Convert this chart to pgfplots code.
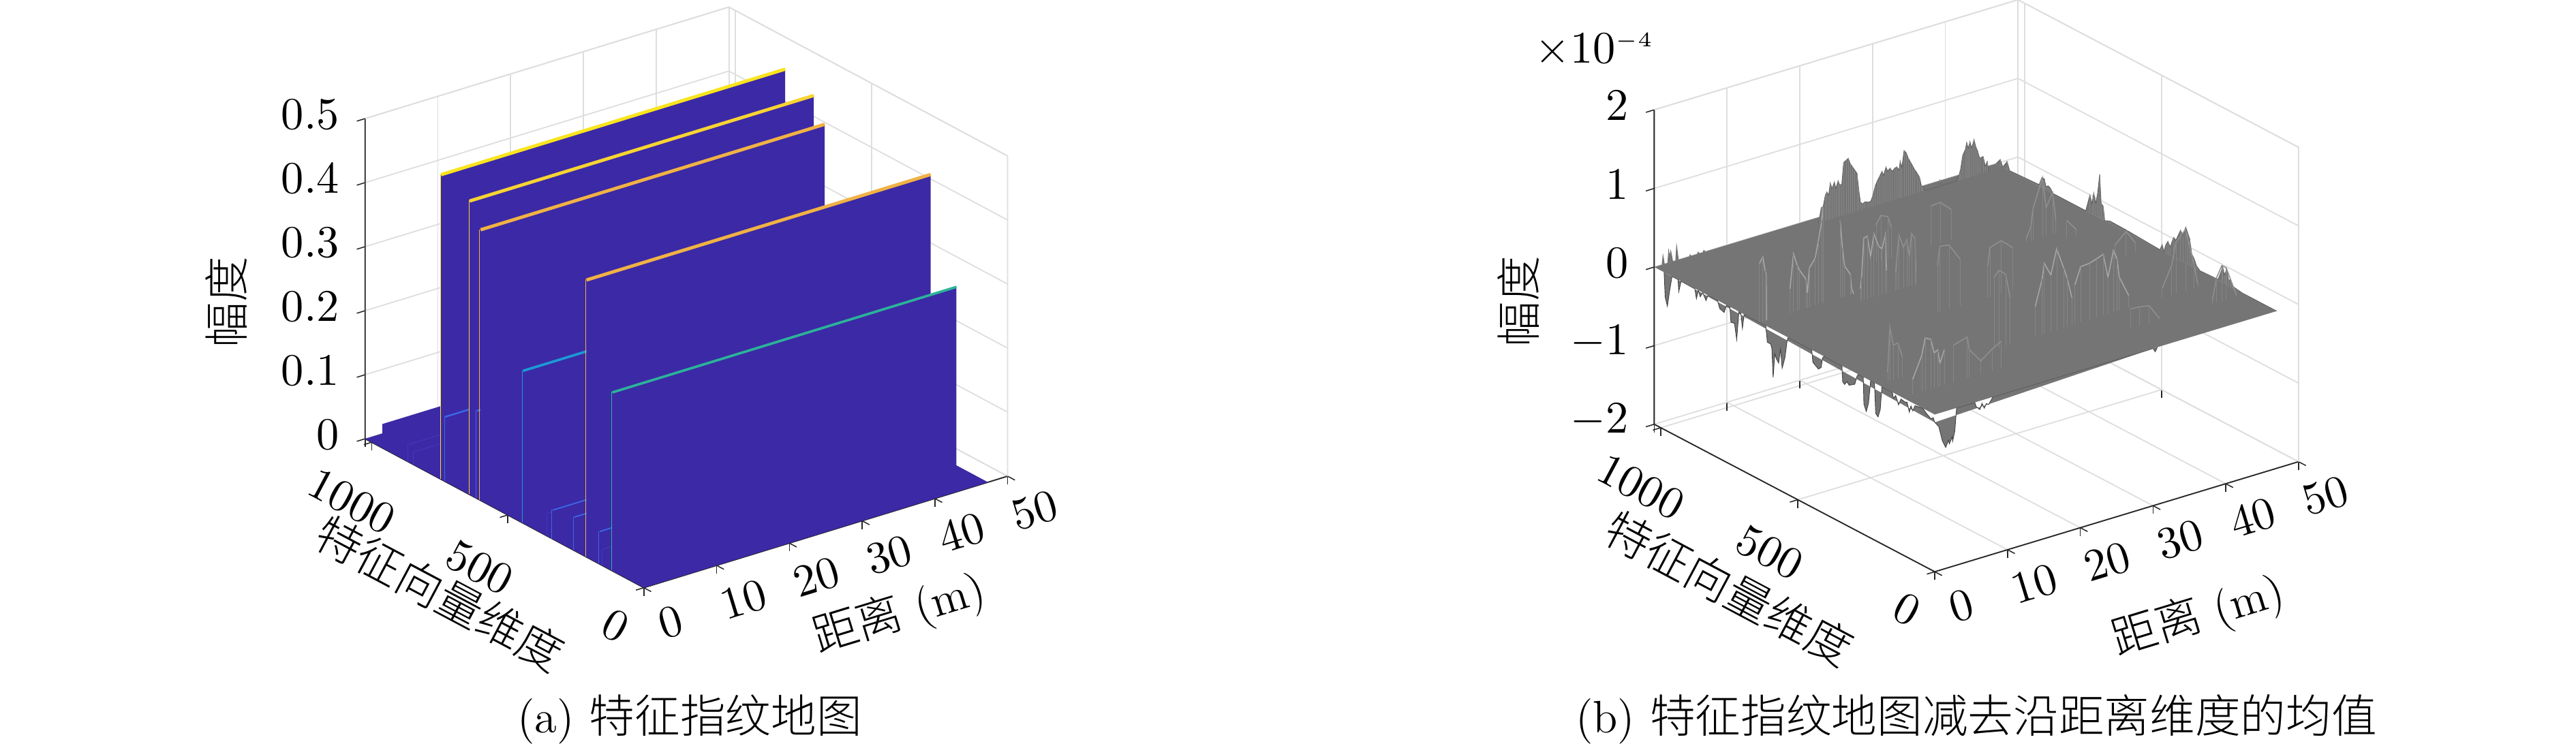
\documentclass[border=0pt]{standalone}
\usepackage{fontspec}
\usepackage{pgfplots}
\pgfplotsset{compat=1.18}
\newfontfamily\cjk{Noto Sans CJK SC Light}
\definecolor{wall}{HTML}{3C29A5}
\definecolor{gridc}{HTML}{DEDEDE}
\definecolor{axc}{HTML}{262626}
\definecolor{plate}{HTML}{757575}
\definecolor{bright}{HTML}{A6A6A6}
\definecolor{faint}{HTML}{8F8F8F}
\definecolor{combc}{HTML}{858585}
\definecolor{cyel}{HTML}{F9E41E}
\definecolor{cyel2}{HTML}{F7D432}
\definecolor{corg}{HTML}{F0B244}
\definecolor{ctea}{HTML}{2BB39A}
\definecolor{ccya}{HTML}{1C9AD6}
\definecolor{cblu}{HTML}{3B68E8}
\definecolor{cblu2}{HTML}{4535BC}
\newcommand\lab[3]{\makebox[0pt]{\hspace*{#1}\raisebox{#2}[7.5pt][0pt]{$#3$}}}
% one ridge of the fingerprint map: wall, thin flank and top line
\newcommand\ridge[4]{% y, height, top colour, top width
  \addplot3[draw=#3,line width=.15pt] coordinates {(0,#1+3,0)(0,#1+3,#2)};
  \addplot3[fill=wall,draw=none] coordinates {(0,#1,0)(47.3,#1,0)(47.3,#1,#2)(0,#1,#2)};
  \addplot3[draw=#3,line width=#4] coordinates {(0,#1,#2)(47.3,#1,#2)};
}
% a curve of the residual surface at constant y
\newcommand\fin[3]{\addplot3[draw=#1,line width=.26pt] table[row sep=\\,x index=0,y expr=#2,z index=1]{#3};
  \addplot3[draw=none,mark=none,error bars/.cd,z dir=minus,z fixed relative=1,error mark=none,error bar style={draw=combc,line width=.12pt}] table[row sep=\\,x index=0,y expr=#2,z index=1]{#3};}
\pgfplotsset{mychart/.style={
  clip=false, grid=major, grid style={line width=.3pt,draw=gridc},
  axis line style={draw=none}, tick style={draw=axc,line width=.25pt},
  tick align=outside, major tick length=2pt, tickpos=left, ztick style={draw=none},
  tick label style={font=\fontsize{11}{13}\selectfont},
  label style={font=\fontsize{11}{13}\selectfont},
  xmin=0,xmax=50,ymin=0,ymax=1024,
  xtick={0,10,20,30,40,50}, ytick={0,500,1000},
  xticklabel style={rotate=17,anchor=center,xshift=2.4pt,yshift=-8.4pt},
  yticklabel style={rotate=-28,anchor=center,xshift=1.4pt,yshift=-12.8pt},
  zticklabel style={anchor=east,xshift=-1pt},
  yticklabels={\lab{-3.4pt}{3.2pt}{0},\lab{0pt}{0pt}{500},\lab{5pt}{-.5pt}{1000}},
  xlabel style={rotate=17,anchor=center},
  ylabel style={rotate=-28,anchor=center},
  zlabel style={anchor=center},
}}
\begin{document}
\begin{tikzpicture}[x=1pt,y=1pt]
\useasboundingbox (0,0) rectangle (623.7,181.17);
\begin{axis}[mychart,
  at={(155.89pt,38.82pt)},anchor=origin,
  x={(1.7615pt,.5402pt)},y={(-.0659pt,.03524pt)},z={(0pt,155.1pt)},
  zmin=0,zmax=0.5,ztick={0,0.1,0.2,0.3,0.4,0.5},
  xlabel={\cjk 距离\rmfamily{} (m)},ylabel={\cjk 特征向量维度},zlabel={\cjk 幅度},
  every axis x label/.append style={at={(axis cs:17.95,-459,0)}},
  every axis y label/.append style={at={(axis cs:-18.7,248,0)}},
  every axis z label/.append style={at={(axis cs:-19.1,1024,0.28)}},
]
\draw[axc,line width=.3pt] (axis cs:0,1024,0.5)--(axis cs:0,1024,0)--(axis cs:0,0,0)--(axis cs:50,0,0);
\draw[gridc,line width=.3pt] (axis cs:50,0,0)--(axis cs:50,0,0.5)--(axis cs:50,1024,0.5)--(axis cs:0,1024,0.5);
\draw[gridc,line width=.3pt] (axis cs:50,1024,0)--(axis cs:50,1024,0.5);
\draw[axc,line width=.25pt] (axis cs:0,1024,0)--(axis cs:-1.15,1024,0) (axis cs:0,1024,0.1)--(axis cs:-1.15,1024,0.1) (axis cs:0,1024,0.2)--(axis cs:-1.15,1024,0.2) (axis cs:0,1024,0.3)--(axis cs:-1.15,1024,0.3) (axis cs:0,1024,0.4)--(axis cs:-1.15,1024,0.4) (axis cs:0,1024,0.5)--(axis cs:-1.15,1024,0.5);
\addplot3[fill=wall,draw=none] coordinates {(0,0,0)(47.3,0,0)(47.3,1024,0)(0,1024,0)};
\ridge{958}{0.038}{wall}{.1pt}
\ridge{863}{0.028}{cblu2}{.2pt}
\ridge{843}{0.021}{cblu2}{.2pt}
\ridge{745}{0.4758}{cyel}{.8pt}
\ridge{730}{0.101}{cblu}{.4pt}
\ridge{640}{0.4585}{cyel2}{.8pt}
\ridge{613}{0.137}{cblu}{.4pt}
\ridge{600}{0.4226}{corg}{.8pt}
\ridge{444}{0.2378}{ccya}{.6pt}
\ridge{354}{0.036}{cblu2}{.2pt}
\ridge{335}{0.045}{cblu}{.3pt}
\ridge{256}{0.052}{cblu}{.3pt}
\ridge{210.6}{0.4327}{corg}{.8pt}
\ridge{162}{0.051}{cblu}{.3pt}
\ridge{150}{0.026}{cblu2}{.2pt}
\ridge{116}{0.2786}{ctea}{.6pt}
\end{axis}
\node[font=\fontsize{11}{13}\selectfont] at (167.0,6.9) {(a) {\cjk 特征指纹地图}};

\begin{axis}[mychart,
  at={(468.44pt,80.77pt)},anchor=origin,
  x={(1.7615pt,.533pt)},y={(-.06633pt,.03488pt)},z={(0pt,19.04pt)},
  zmin=-2,zmax=2,ztick={-2,-1,0,1,2},
  xlabel={\cjk 距离\rmfamily{} (m)},ylabel={\cjk 特征向量维度},zlabel={\cjk 幅度},
  every axis x label/.append style={at={(axis cs:15.5,-551,-2)}},
  every axis y label/.append style={at={(axis cs:-20.7,200,-2)}},
  every axis z label/.append style={at={(axis cs:-18.7,1024,0.087)}},
]
\draw[axc,line width=.3pt] (axis cs:0,1024,2)--(axis cs:0,1024,-2)--(axis cs:0,0,-2)--(axis cs:50,0,-2);
\draw[gridc,line width=.3pt] (axis cs:50,0,-2)--(axis cs:50,0,2)--(axis cs:50,1024,2)--(axis cs:0,1024,2);
\draw[gridc,line width=.3pt] (axis cs:50,1024,-2)--(axis cs:50,1024,2);
\draw[axc,line width=.25pt] (axis cs:0,1024,-2)--(axis cs:-1.15,1024,-2) (axis cs:0,1024,-1)--(axis cs:-1.15,1024,-1) (axis cs:0,1024,0)--(axis cs:-1.15,1024,0) (axis cs:0,1024,1)--(axis cs:-1.15,1024,1) (axis cs:0,1024,2)--(axis cs:-1.15,1024,2);
\node[font=\fontsize{11}{13}\selectfont] at (axis cs:-8.2,1024,2.99) {$\times 10^{\scriptscriptstyle -4}$};
% downward spikes along the edge x=0
\addplot3[fill=plate,draw=black!75,line width=.15pt] coordinates {
(0,988,0)(0,984,-.31)(0,976,-.41)(0,968,-.2)(0,959,0)(0,937,0)(0,934.5,-.15)(0,926,0)(0,876,0)(0,870,-.12)(0,863,0)(0,856,-.07)(0,847,0)(0,835,-.08)(0,828,0)(0,793,0)(0,785,-.09)(0,769,-.11)(0,760,0)(0,748,0)(0,744,-.19)(0,731,-.18)(0,723,-.37)(0,715,0)(0,708,0)(0,702,-.19)(0,696,0)(0,617,0)(0,611,-.2)(0,599,-.2)(0,594.5,-.25)(0,590,-.61)(0,584,-.3)(0,578,-.35)(0,570,-.39)(0,563,-.2)(0,557,-.43)(0,547,-.28)(0,539,-.05)(0,535,0)(0,449,0)(0,445,-.15)(0,424.5,-.2)(0,414.6,-.16)(0,409.6,-.03)(0,404,0)(0,339,0)(0,336,-.2)(0,329,-.22)(0,321,-.17)(0,312.6,-.2)(0,292,-.15)(0,283.6,-.03)(0,279,0)(0,261,0)(0,258.7,-.34)(0,250,-.42)(0,242,-.3)(0,234,0)(0,220,0)(0,215.6,-.38)(0,207,-.41)(0,199,-.3)(0,193,0)(0,155,0)(0,151,-.07)(0,142.6,-.02)(0,132,-.12)(0,123.5,-.03)(0,109,-.04)(0,101,-.03)(0,92.8,-.14)(0,87,-.05)(0,80,-.1)(0,72,-.02)(0,43,0)(0,35,-.03)(0,14,-.08)(0,5.8,-.05)(0,0,-.1)};
% downward spikes along the edge y=0
\addplot3[fill=plate,draw=black!75,line width=.15pt] coordinates {
(0,0,-.1)(.56,0,-.17)(1.03,0,-.36)(1.5,0,-.46)(1.9,0,-.38)(2,0,-.43)(2.4,0,-.35)(2.45,0,-.41)(2.75,0,-.29)(3,0,0)(5.5,0,0)(5.7,0,-.06)(6.2,0,-.11)(6.5,0,-.04)(6.8,0,-.11)(7.1,0,-.06)(7.4,0,-.08)(8,0,0)(30,0,0)(30.3,0,-.05)(30.6,0,0)};
% the flat sheet
\addplot3[fill=plate,draw=none] coordinates {(0,0,0)(47,0,0)(47,1024,0)(0,1024,0)};
% spikes near the far left corner
\addplot3[fill=plate,draw=none] coordinates {(1.03,1024,0)(1.19,1024,.146)(1.44,1024,0)(1.81,1024,0)(1.97,1024,.19)(2.12,1024,.1)(2.28,1024,.16)(2.59,1024,0)(2.9,1024,0)(3.06,1024,.23)(3.37,1024,0)(4.78,1024,0)(4.93,1024,.026)(5.1,1024,0)(5.87,1024,0)(6.03,1024,.03)(6.24,1024,0)(6.65,1024,0)(6.8,1024,.03)(7.06,1024,0)(30,1024,0)};
% the big bumps at the far edge
\addplot3[fill=plate,draw=plate!85!black,line width=.15pt,error bars/.cd,z dir=minus,z fixed relative=1,error mark=none,error bar style={draw=combc,line width=.12pt}] coordinates {
(21.67,1000,0)(21.82,1000,.06)(22.04,1000,.18)(22.32,1000,.19)(22.6,1000,.32)(22.82,1000,.36)(23.07,1000,.31)(23.29,1000,.46)(23.54,1000,.38)(23.85,1000,.46)(24.07,1000,.37)(24.38,1000,.46)(24.57,1000,.4)(24.88,1000,.4)(25.13,1000,.67)(25.51,1000,.69)(25.76,1000,.705)(26.04,1000,.63)(26.35,1000,.58)(26.66,1000,.53)(26.97,1000,.48)(27.19,1000,.28)(27.44,1000,.1)(27.76,1000,.07)(28.07,1000,.09)(28.54,1000,.07)(28.85,1000,.07)(29.16,1000,.14)(29.47,1000,.25)(29.78,1000,.31)(30.1,1000,.36)(30.41,1000,.41)(30.63,1000,.35)(30.94,1000,.45)(31.19,1000,.39)(31.5,1000,.42)(31.81,1000,.37)(32.13,1000,.4)(32.44,1000,.41)(32.75,1000,.36)(32.91,1000,.47)(33.13,1000,.38)(33.44,1000,.59)(33.75,1000,.55)(34,1000,.48)(34.31,1000,.42)(34.62,1000,.36)(34.87,1000,.31)(35.25,1000,.25)(35.56,1000,.19)(35.81,1000,.08)(36.03,1000,.05)(36.34,1000,0)(38.2,1000,0)(38.37,1000,.07)(38.5,1000,0)(40.56,1000,0)(41.02,1000,.07)(41.24,1000,.15)(41.49,1000,.3)(41.87,1000,.37)(42.05,1000,.45)(42.27,1000,.37)(42.49,1000,.45)(42.74,1000,.36)(43.05,1000,.46)(43.27,1000,.37)(43.58,1000,.29)(43.83,1000,.2)(44.3,1000,.21)(44.61,1000,.075)(44.86,1000,.13)(45.08,1000,0)};
% bumps at the far right edge
\addplot3[fill=plate,draw=plate!85!black,line width=.15pt,error bars/.cd,z dir=minus,z fixed relative=1,error mark=none,error bar style={draw=combc,line width=.12pt}] coordinates {
(47,1024,0)(47,1009,.08)(47,1000,0)(47,984,.1)(47,975,0)(47,867,.02)(47,857,.13)(47,848,.127)(47,842,.04)(47,834,.066)(47,826,.05)(47,817.5,0)(47,697,0)(47,682,.225)(47,674,.13)(47,668,.28)(47,660,.16)(47,653,.32)(47,646,.555)(47,641,.2)(47,633,.17)(47,628,0)(47,609,.03)(47,547,.025)(47,426,0)(47,418,.08)(47,412,0)(47,405,.1)(47,397,.16)(47,389,.1)(47,376,.25)(47,368,.225)(47,351,.385)(47,343,.33)(47,332,.46)(47,324,.39)(47,318,.34)(47,310,.157)(47,301,.11)(47,293,.04)(47,280,0)(47,214,.01)(47,197,.2)(47,191,.11)(47,182,.2)(47,176,.08)(47,168,.08)(47,160,.02)(47,143,.01)(47,126,0)(47,0,0)};
% lighter curves on the sheet
\fin{faint}{748}{20.1 .48\\20.76 .58\\21.7 .54\\22.2 .39\\}
\fin{faint}{748}{27.6 .51\\28.9 .52\\30.4 .39\\}
\fin{bright}{640}{0 .75\\.47 .82\\.78 .64\\.94 .58\\1 0\\}
\fin{bright}{640}{4.2 .31\\4.68 .74\\5.2 .58\\5.5 .51\\6.4 .37\\6.6 .19\\6.87 .5\\7.65 .6\\8.1 .81\\8.6 1.06\\8.75 1.23\\}
\fin{bright}{640}{11.1 .99\\11.4 .63\\11.7 .39\\12.5 .26\\12.65 .08\\12.95 0\\}
\fin{faint}{640}{36.7 .04\\37.3 .17\\37.6 .39\\38.9 .75\\39.4 .355\\40.3 .52\\40.75 .16\\}
\fin{bright}{599}{12.33 .16\\12.5 .3\\12.8 .786\\13.27 .8\\13.74 .53\\14.2 .8\\14.83 .63\\15.3 .58\\15.77 .75\\15.92 .29\\}
\fin{faint}{599}{17.17 .23\\17.33 .4\\17.64 .69\\18.26 .52\\18.73 .6\\19.05 .38\\19.36 .66\\19.83 .59\\19.98 .15\\}
\fin{faint}{599}{40.7 .235\\42 .08\\}
\fin{faint}{444}{17.1 .6\\17.4 .84\\18.67 .82\\20.2 .6\\}
\fin{faint}{444}{24 .41\\24.3 .63\\25.85 .675\\27.4 .545\\}
\fin{faint}{444}{41.5 .18\\43 .31\\44.3 .13\\}
\fin{faint}{211}{1.47 .11\\1.78 .68\\2.25 .43\\2.87 .445\\3.5 .25\\}
\fin{faint}{211}{16.14 .91\\16.77 .98\\17.7 .9\\18.3 .59\\}
\fin{bright}{211}{21.76 .38\\22.7 .7\\23 .89\\23.9 .72\\24.7 1.03\\25.66 .76\\26.1 .63\\26.8 .35\\}
\fin{bright}{211}{27.2 .5\\28 .71\\29.25 .72\\30.2 .75\\31.1 .78\\31.75 .47\\32.5 .79\\33 .67\\33.3 .43\\34.6 .16\\}
\fin{faint}{211}{39.2 .12\\40.5 .375\\41.1 .65\\42.4 .78\\43.6 .29\\44.1 .04\\}
\fin{bright}{118}{1.4 .19\\2.65 .46\\3.12 .67\\3.9 .63\\4.37 .445\\4.84 .47\\5.15 .29\\5.78 .45\\}
\fin{faint}{118}{7.02 .47\\8.9 .52\\9.2 .35\\10.76 .165\\12.3 .27\\13.6 .34\\}
\fin{faint}{118}{31.4 .25\\32.6 .24\\33.9 .22\\35.3 .02\\}
\fin{faint}{118}{42.6 .05\\43.2 .32\\43.9 .45\\44.5 .405\\45.9 .02\\}
\end{axis}
\node[font=\fontsize{11}{13}\selectfont] at (478.5,6.9) {(b) {\cjk 特征指纹地图减去沿距离维度的均值}};
\end{tikzpicture}
\end{document}
